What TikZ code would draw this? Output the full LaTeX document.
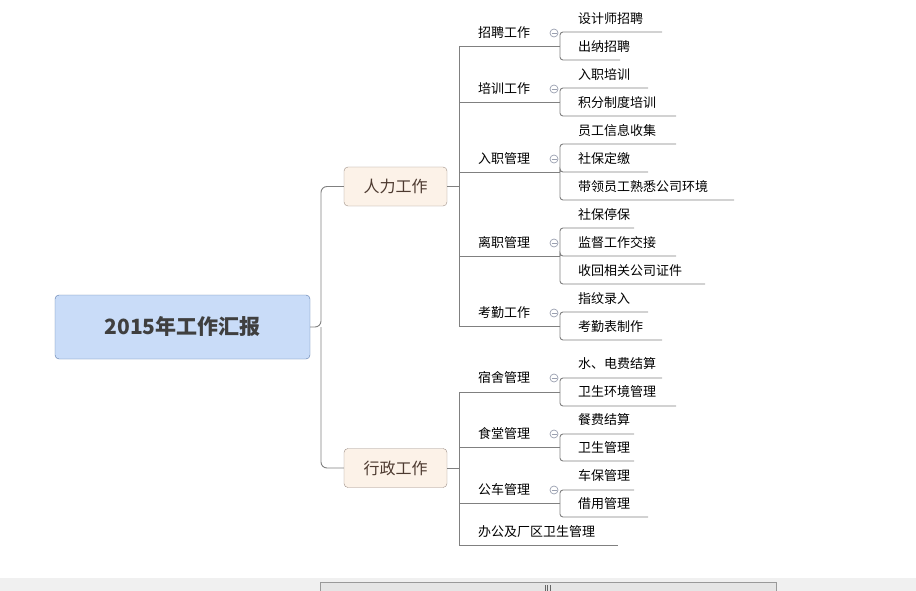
\documentclass[tikz,border=0pt]{standalone}
\usepackage{fontspec}
\setmainfont{Noto Sans CJK SC}
\tikzset{
  px/.style={x=1pt,y=-1pt},
  rootbox/.style={draw=rootline,fill=rootfill,rounded corners=4pt,minimum width=255pt,minimum height=64pt,text=roottext,font=\fontsize{21}{24}\selectfont\bfseries},
  mainbox/.style={draw=mainline,fill=mainfill,rounded corners=4pt,minimum width=103pt,minimum height=39pt,text=maintext,font=\fontsize{16}{19}\selectfont},
  topic/.style={anchor=west,inner sep=0pt,font=\fontsize{13}{15}\selectfont},
  wire/.style={draw=wirecol,line width=0.9pt},
  fold/.style={draw=foldcol,fill=white,line width=0.7pt}
}
\definecolor{rootline}{HTML}{5877A8}
\definecolor{rootfill}{HTML}{C9DCF8}
\definecolor{roottext}{HTML}{3F3F3F}
\definecolor{mainline}{HTML}{9C8E86}
\definecolor{mainfill}{HTML}{FCF2E8}
\definecolor{maintext}{HTML}{4D3A30}
\definecolor{wirecol}{HTML}{808080}
\definecolor{foldcol}{HTML}{9AA0B0}
\begin{document}
\begin{tikzpicture}[px]
    \useasboundingbox (0,0) rectangle (916,591);
    % root and main branches
    \node[rootbox] (root) at (182.5,327) {2015年工作汇报};
    \node[mainbox] (hr) at (395.5,186.5) {人力工作};
    \node[mainbox] (adm) at (395.5,468) {行政工作};
    \coordinate (rj) at (321,327);
    \draw[wire,rounded corners=6pt] (root.east) -- (rj) |- (hr.west);
    \draw[wire,rounded corners=6pt] (rj) |- (adm.west);
    \draw[wire] (hr.east) -- (459,186.5);
    \draw[wire] (adm.east) -- (459,468);
    \draw[wire] (459,46) -- (459,326);
    \draw[wire] (459,392) -- (459,545);
    % second level
    \foreach \nm/\lab/\ty/\ly in {zp/招聘工作/33/46, px/培训工作/89/102, rz/入职管理/159/172,
        lz/离职管理/243/256, kq/考勤工作/313/326, ss/宿舍管理/378/392, st/食堂管理/434/447,
        gc/公车管理/490/503}{
        \node[topic] (\nm) at (478,\ty) {\lab};
        \coordinate (\nm-j) at (560,\ly);
        \draw[wire] (459,\ly) -- (\nm-j);
        \draw[fold] (554,\ty) circle (4);
        \draw[foldcol,line width=0.7pt] (551.5,\ty) -- (556.5,\ty);
    }
    \node[topic] (bg) at (478,532) {办公及厂区卫生管理};
    \draw[wire] (459,545) -- (618,545);
    % leaves
    \foreach \up/\lab/\ty/\ly/\xe in {zp/设计师招聘/19/32/662, zp/出纳招聘/47/60/620,
        px/入职培训/75/88/648, px/积分制度培训/103/116/676,
        rz/员工信息收集/131/144/676, rz/社保定缴/159/172/648, rz/带领员工熟悉公司环境/187/200/734,
        lz/社保停保/215/228/634, lz/监督工作交接/243/256/676, lz/收回相关公司证件/271/284/705,
        kq/指纹录入/299/312/648, kq/考勤表制作/327/340/662,
        ss/水、电费结算/364/378/662, ss/卫生环境管理/392/406/676,
        st/餐费结算/420/434/634, st/卫生管理/448/461/634,
        gc/车保管理/476/490/634, gc/借用管理/504/517/648}{
        \node[topic] (\up-\ty) at (578,\ty) {\lab};
        \draw[wire,rounded corners=3pt] (\up-j) |- (\xe,\ly);
    }
    % scrollbar
    \fill[black!6] (0,578) rectangle (916,591);
    \draw[black!40,fill=black!10] (320,582) rectangle (776,591);
    \foreach \gx in {545,547.5,550}
        \draw[black!60] (\gx,585) -- (\gx,591);
\end{tikzpicture}
\end{document}
